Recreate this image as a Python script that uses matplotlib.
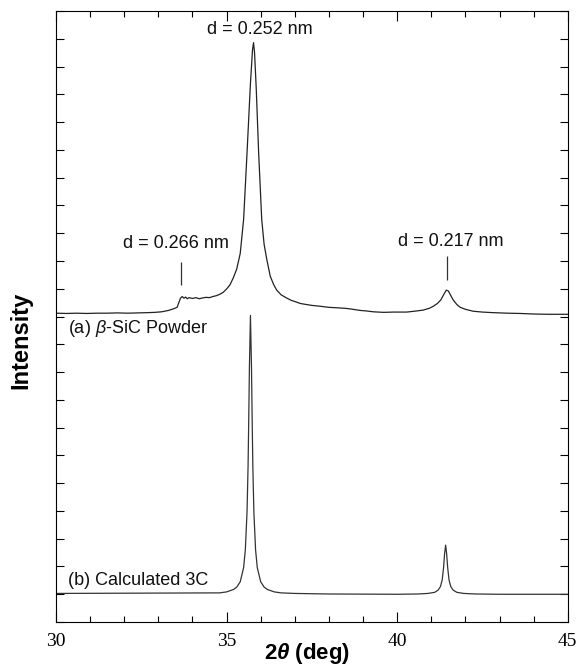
import matplotlib.pyplot as plt
from matplotlib.ticker import MultipleLocator

a_x = [30.0, 30.3, 30.6, 30.9, 31.2, 31.5, 31.8, 32.1, 32.4, 32.7, 32.9, 33.1,
       33.3, 33.45, 33.55, 33.6, 33.65, 33.7, 33.75, 33.8, 33.85, 33.9, 34.0,
       34.1, 34.2, 34.3, 34.4, 34.5, 34.6, 34.7, 34.8, 34.9, 35.0, 35.1, 35.2,
       35.3, 35.4, 35.5, 35.6, 35.7, 35.76, 35.79, 35.82, 35.87, 35.94, 36.03,
       36.1, 36.18, 36.28, 36.38, 36.47, 36.6, 36.77, 36.9, 37.0, 37.16, 37.3,
       37.5, 37.74, 38.0, 38.3, 38.52, 38.7, 38.91, 39.1, 39.3, 39.6, 39.9,
       40.28, 40.5, 40.76, 40.95, 41.06, 41.18, 41.28, 41.36, 41.44, 41.5,
       41.56, 41.64, 41.75, 41.85, 42.0, 42.23, 42.5, 42.8, 43.23, 43.6, 44.0,
       44.4, 44.7, 45.0]
a_y = [11.12, 11.11, 11.12, 11.11, 11.12, 11.12, 11.13, 11.12, 11.13, 11.14,
       11.15, 11.17, 11.22, 11.28, 11.33, 11.50, 11.66, 11.72, 11.66, 11.70,
       11.64, 11.68, 11.65, 11.68, 11.64, 11.67, 11.69, 11.68, 11.72, 11.75,
       11.80, 11.87, 11.99, 12.14, 12.40, 12.72, 13.27, 14.5, 16.9, 19.4, 20.6,
       20.86, 20.5, 19.2, 16.9, 14.5, 13.6, 13.05, 12.45, 12.15, 11.95, 11.78,
       11.66, 11.58, 11.54, 11.47, 11.44, 11.40, 11.37, 11.33, 11.31, 11.29,
       11.26, 11.22, 11.20, 11.17, 11.15, 11.16, 11.16, 11.19, 11.23, 11.30,
       11.37, 11.47, 11.60, 11.78, 11.95, 11.92, 11.78, 11.60, 11.43, 11.33,
       11.26, 11.19, 11.16, 11.14, 11.12, 11.11, 11.09, 11.08, 11.08, 11.08]

# (b) calculated 3C pattern
b_x = [30.0, 34.8, 35.0, 35.2, 35.3, 35.4, 35.5, 35.55, 35.6, 35.63, 35.65,
       35.67, 35.70, 35.73, 35.75, 35.77, 35.80, 35.85, 35.90, 36.0, 36.1,
       36.2, 36.4, 36.6, 37.0, 38.0, 40.0, 40.6, 40.9, 41.1, 41.2, 41.27,
       41.32, 41.36, 41.39, 41.42, 41.45, 41.48, 41.52, 41.57, 41.64, 41.75,
       41.95, 42.3, 43.0, 45.0]
b_y = [1.03, 1.05, 1.085, 1.17, 1.26, 1.45, 1.96, 2.6, 3.97, 5.6, 7.3, 9.2,
       11.04, 9.2, 7.3, 5.6, 3.97, 2.6, 1.96, 1.45, 1.26, 1.17, 1.085, 1.05,
       1.03, 1.01, 1.0, 1.01, 1.03, 1.07, 1.15, 1.28, 1.52, 1.96, 2.46, 2.77,
       2.46, 1.96, 1.52, 1.28, 1.15, 1.07, 1.03, 1.01, 1.0, 1.0]

# peak labels: text, x, y of text, marker line (x, y0, y1)
d_labels = ['d = 0.266 nm', 'd = 0.252 nm', 'd = 0.217 nm']
d_text_x = [33.53, 35.98, 41.58]
d_text_y = [13.63, 21.33, 13.70]
mark_x = [33.67, 41.47]
mark_y0 = [12.12, 12.30]
mark_y1 = [12.95, 13.17]

plt.rcParams['font.family'] = ['Liberation Sans', 'DejaVu Sans']
plt.rcParams['mathtext.fontset'] = 'custom'
plt.rcParams['mathtext.it'] = 'Liberation Sans:italic'
plt.rcParams['mathtext.bf'] = 'Liberation Sans:bold:italic'

fig = plt.figure(figsize=(5.77, 6.66), dpi=100)
ax = fig.add_axes([0.097, 0.066, 0.887, 0.9175])

ax.plot(a_x, a_y, color='#222222', linewidth=0.9)
ax.plot(b_x, b_y, color='#333333', linewidth=0.9)

for txt, tx, ty in zip(d_labels, d_text_x, d_text_y):
    ax.text(tx, ty, txt, fontsize=13, ha='center', va='center', color='#111111')
ax.vlines(mark_x, mark_y0, mark_y1, color='#333333', linewidth=0.9)

ax.text(30.35, 10.58, r'(a) $\beta$-SiC Powder', fontsize=13, ha='left', va='center', color='#111111')
ax.text(30.35, 1.51, '(b) Calculated 3C', fontsize=13, ha='left', va='center', color='#111111')

ax.set_xlim(30, 45)
ax.set_ylim(0, 22)
ax.xaxis.set_major_locator(MultipleLocator(5))
ax.xaxis.set_minor_locator(MultipleLocator(1))
ax.yaxis.set_major_locator(MultipleLocator(1))
ax.tick_params(axis='both', which='both', direction='in', top=True, right=True)
ax.tick_params(axis='x', which='major', length=7, width=0.8, pad=8)
ax.tick_params(axis='x', which='minor', length=4, width=0.8)
ax.tick_params(axis='y', which='major', length=6, width=0.8, labelleft=False)
for lbl in ax.get_xticklabels():
    lbl.set_fontfamily('Liberation Serif')
    lbl.set_fontsize(14)
for sp in ax.spines.values():
    sp.set_linewidth(0.8)

ax.set_xlabel(r'2$\mathbf{\theta}$ (deg)', fontsize=16, fontweight='bold')
ax.xaxis.set_label_coords(0.49, -0.031)
ax.set_ylabel('Intensity', fontsize=17, fontweight='bold')
ax.yaxis.set_label_coords(-0.047, 0.4615)

plt.savefig('out.png', dpi=100)
